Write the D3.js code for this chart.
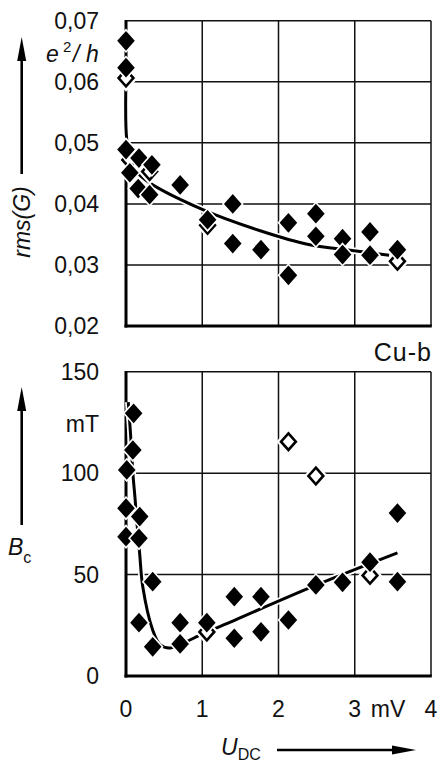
<!DOCTYPE html>
<html>
<head>
<meta charset="utf-8">
<script src="https://cdn.jsdelivr.net/npm/d3@7"></script>
<style>
  body { margin: 0; background: #fff; }
  svg { display: block; font-family: "Liberation Sans", Arial, sans-serif; }
</style>
</head>
<body>
<div id="chart"></div>
<script>
// top panel: rms(G) in e^2/h vs U_DC in mV
const topFilled = [
  [0, 0.0667], [0, 0.0623], [0, 0.0489], [0.17, 0.0475], [0.34, 0.0464],
  [0.05, 0.0451], [0.16, 0.0425], [0.31, 0.0415], [0.71, 0.0431],
  [1.07, 0.0374], [1.40, 0.0400], [1.40, 0.0335], [1.77, 0.0325],
  [2.13, 0.0369], [2.13, 0.0283], [2.49, 0.0384], [2.49, 0.0347],
  [2.84, 0.0343], [2.84, 0.0317], [3.20, 0.0354], [3.20, 0.0316], [3.56, 0.0325]
];
const topHollow = [[0, 0.0606], [0.05, 0.0472], [0.31, 0.0453], [1.07, 0.0365], [3.56, 0.0306]];
const topFit = [
  [0, 0.0606], [0.01, 0.0505], [0.08, 0.0462], [0.27, 0.0438], [1.0, 0.0391],
  [1.76, 0.0356], [2.41, 0.0333], [2.94, 0.0324], [3.45, 0.0316]
];
const topTicks = [0.02, 0.03, 0.04, 0.05, 0.06, 0.07];

// bottom panel: B_c in mT vs U_DC in mV
const botFilled = [
  [0.10, 129.5], [0.09, 111.4], [0.01, 101.6], [0, 82.7], [0.18, 78.6],
  [0, 68.7], [0.17, 67.9], [0.35, 46.5], [0.17, 26.3], [0.71, 26.3],
  [1.06, 26.3], [0.35, 14.4], [0.71, 15.8], [1.42, 39.1], [1.77, 39.1],
  [1.42, 18.6], [1.77, 21.8], [2.13, 27.6], [2.49, 44.9], [2.84, 46.2],
  [3.20, 56.1], [3.56, 46.5], [3.56, 80.3]
];
const botHollow = [[1.06, 21.7], [3.20, 49.6], [2.13, 115.5], [2.49, 98.6]];
const botFit = [
  [0.03, 135], [0.06, 119], [0.09, 100], [0.12, 87], [0.14, 77], [0.18, 60],
  [0.22, 44], [0.35, 22.7], [0.45, 15.3], [0.58, 13.8], [0.97, 20.2],
  [1.19, 23.7], [2.5, 44.9], [3.56, 60.7]
];
const botTicks = [0, 50, 100, 150];
const xTicks = [0, 1, 2, 3, 4];

const W = 440, H = 767;
const svg = d3.select("#chart").append("svg").attr("width", W).attr("height", H);

const x = d3.scaleLinear().domain([0, 4]).range([126, 431]);
const yTop = d3.scaleLinear().domain([0.02, 0.07]).range([326, 20.7]);
const yBot = d3.scaleLinear().domain([0, 150]).range([676, 371.7]);

// diamond shape a bit taller than wide
const diamond = {
  draw(ctx, size) {
    const w = Math.sqrt(size / 2.24), h = w * 1.12;
    ctx.moveTo(0, -h); ctx.lineTo(w, 0); ctx.lineTo(0, h); ctx.lineTo(-w, 0); ctx.closePath();
  }
};
const bigDiamond = d3.symbol().type(diamond).size(2.24 * 8.8 * 8.8);
const hollowDiamond = d3.symbol().type(diamond).size(2.24 * 7.4 * 7.4);

const fmt = d => d3.format(".2f")(d).replace(".", ",");

function panel(y, yTicksArr, tickFmt, filled, hollow, fit) {
  const g = svg.append("g");
  const [y0, y1] = y.domain();
  // grid
  g.selectAll(".hg").data(yTicksArr.filter(t => t !== y0)).join("line")
    .attr("x1", x(0)).attr("x2", x(4)).attr("y1", d => y(d)).attr("y2", d => y(d))
    .attr("stroke", "#111").attr("stroke-width", 1.5);
  g.selectAll(".vg").data(xTicks.filter(t => t > 0)).join("line")
    .attr("x1", d => x(d)).attr("x2", d => x(d)).attr("y1", y(y0)).attr("y2", y(y1))
    .attr("stroke", "#111").attr("stroke-width", 1.5);
  // axes
  g.append("line").attr("x1", x(0)).attr("x2", x(0)).attr("y1", y(y1) - 0.7).attr("y2", y(y0) + 1.5)
    .attr("stroke", "#000").attr("stroke-width", 3);
  g.append("line").attr("x1", x(0) - 1.5).attr("x2", x(4) + 0.8).attr("y1", y(y0)).attr("y2", y(y0))
    .attr("stroke", "#000").attr("stroke-width", 3);
  // tick labels
  g.selectAll(".yl").data(yTicksArr).join("text")
    .attr("x", 99).attr("y", d => y(d) + 8.3)
    .attr("text-anchor", "end").attr("font-size", 23).attr("fill", "#111")
    .text(tickFmt);
  // fit curve
  const line = d3.line().x(d => x(d[0])).y(d => y(d[1])).curve(d3.curveCatmullRom.alpha(0.5));
  g.append("path").attr("d", line(fit)).attr("fill", "none").attr("stroke", "#fff").attr("stroke-width", 6.5);
  g.append("path").attr("d", line(fit)).attr("fill", "none").attr("stroke", "#000").attr("stroke-width", 3);
  // hollow markers
  g.selectAll(".hh").data(hollow).join("path")
    .attr("d", hollowDiamond).attr("transform", d => `translate(${x(d[0])},${y(d[1])})`)
    .attr("fill", "none").attr("stroke", "#fff").attr("stroke-width", 7);
  g.selectAll(".ho").data(hollow).join("path")
    .attr("d", hollowDiamond).attr("transform", d => `translate(${x(d[0])},${y(d[1])})`)
    .attr("fill", "#fff").attr("stroke", "#000").attr("stroke-width", 2.6);
  // filled markers
  g.selectAll(".fi").data(filled).join("path")
    .attr("d", bigDiamond).attr("transform", d => `translate(${x(d[0])},${y(d[1])})`)
    .attr("fill", "#000").attr("stroke", "#fff").attr("stroke-width", 3.2)
    .style("paint-order", "stroke");
  return g;
}

panel(yTop, topTicks, fmt, topFilled, topHollow, topFit);
panel(yBot, botTicks, d => d, botFilled, botHollow, botFit);

// x tick labels
svg.selectAll(".xl").data(xTicks).join("text")
  .attr("x", d => x(d)).attr("y", 716.7)
  .attr("text-anchor", "middle").attr("font-size", 23).attr("fill", "#111")
  .text(d => d);
svg.append("text").attr("x", 388).attr("y", 716.7).attr("text-anchor", "middle")
  .attr("font-size", 23).attr("fill", "#111").text("mV");

// unit / axis labels
const eh = svg.append("text").attr("y", 62).attr("font-size", 23).attr("fill", "#111").attr("font-style", "italic");
eh.append("tspan").attr("x", 46).text("e");
eh.append("tspan").attr("x", 63).attr("font-size", 15).attr("dy", -10).attr("font-style", "normal").text("2");
eh.append("tspan").attr("x", 73).attr("dy", 10).text("/");
eh.append("tspan").attr("x", 86).text("h");

svg.append("text").attr("x", 99).attr("y", 431.7).attr("text-anchor", "end")
  .attr("font-size", 23).attr("fill", "#111").text("mT");
svg.append("text").attr("x", 432).attr("y", 361).attr("text-anchor", "end")
  .attr("font-size", 25).attr("letter-spacing", 1).attr("fill", "#111").text("Cu-b");

svg.append("text").attr("transform", "translate(30,222) rotate(-90)")
  .attr("text-anchor", "middle").attr("font-size", 23).attr("fill", "#111")
  .attr("font-style", "italic").text("rms(G)");

const bc = svg.append("text").attr("x", 8).attr("y", 555).attr("font-size", 23).attr("fill", "#111");
bc.append("tspan").attr("font-style", "italic").text("B");
bc.append("tspan").attr("font-size", 16).attr("dy", 8).text("c");

const ud = svg.append("text").attr("x", 221).attr("y", 755).attr("font-size", 23).attr("fill", "#111");
ud.append("tspan").attr("font-style", "italic").text("U");
ud.append("tspan").attr("font-size", 16).attr("dy", 5).text("DC");

// arrows
function arrow(x1, y1, x2, y2) {
  const a = Math.atan2(y2 - y1, x2 - x1), L = 24, hw = 4.5;
  const bx = x2 - L * Math.cos(a), by = y2 - L * Math.sin(a);
  svg.append("line").attr("x1", x1).attr("y1", y1).attr("x2", bx).attr("y2", by)
    .attr("stroke", "#000").attr("stroke-width", 2.6);
  const p = d3.path();
  p.moveTo(x2, y2);
  p.lineTo(bx - hw * Math.sin(a), by + hw * Math.cos(a));
  p.lineTo(bx + hw * Math.sin(a), by - hw * Math.cos(a));
  p.closePath();
  svg.append("path").attr("d", p.toString()).attr("fill", "#000");
}
arrow(21.7, 174, 21.7, 37);
arrow(21.7, 525, 21.7, 387);
arrow(277, 750, 416, 750);
</script>
</body>
</html>
